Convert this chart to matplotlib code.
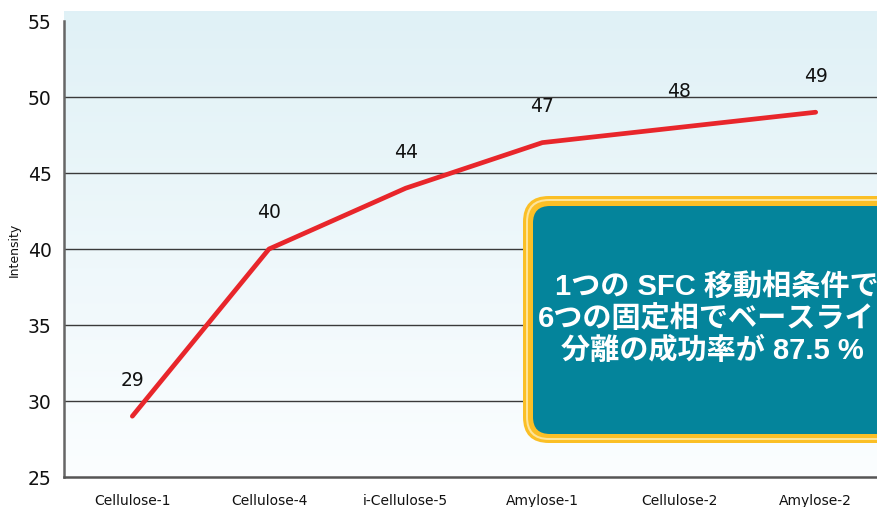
import numpy as np
import matplotlib.pyplot as plt
from matplotlib.patches import FancyBboxPatch

plt.rcParams['font.family'] = ['DejaVu Sans']

# columns tested and the measured intensity for each
columns = ['Cellulose-1', 'Cellulose-4', 'i-Cellulose-5', 'Amylose-1', 'Cellulose-2', 'Amylose-2']
intensity = [29, 40, 44, 47, 48, 49]
y_ticks = [25, 30, 35, 40, 45, 50, 55]
grid_levels = [30, 35, 40, 45, 50]

callout_lines = ['1つの SFC 移動相条件で', '6つの固定相でベースライン', '分離の成功率が 87.5 %']

fig = plt.figure(figsize=(8.78, 5.07), dpi=100)
ax = fig.add_axes([64 / 878, 30 / 507, 820 / 878, 466 / 507])

x = np.arange(len(columns))
ax.set_xlim(-0.5, len(columns) - 0.5)
ax.set_ylim(25, 55.66)

# pale blue gradient behind the plot
grad = np.linspace(0, 1, 256).reshape(-1, 1)
top_c = np.array([0.878, 0.945, 0.965])
bot_c = np.array([0.985, 0.995, 1.0])
img = top_c + (bot_c - top_c) * grad
ax.imshow(img[:, None, :].repeat(2, axis=1), extent=(-0.5, len(columns) - 0.5, 25, 55.66),
          aspect='auto', origin='upper', zorder=0)

ax.hlines(grid_levels, -0.5, len(columns) - 0.5, colors='#3a3a3a', linewidth=1.0, zorder=1)

ax.plot(x, intensity, color='#e8262b', linewidth=3.4, solid_capstyle='round', zorder=3)
for xi, v in zip(x, intensity):
    ax.annotate(str(v), (xi, v), xytext=(0, 26), textcoords='offset points',
                ha='center', va='center', fontsize=13.5, color='#111111', zorder=4)

for s in ['top', 'right']:
    ax.spines[s].set_visible(False)
ax.spines['left'].set_bounds(25, 55)
ax.spines['left'].set_color('#666666')
ax.spines['left'].set_linewidth(1.8)
ax.spines['bottom'].set_color('#555555')
ax.spines['bottom'].set_linewidth(1.8)

ax.set_yticks(y_ticks)
ax.set_yticklabels([str(t) for t in y_ticks], fontsize=13.5, color='#111111')
ax.set_xticks(x)
ax.set_xticklabels(columns, fontsize=10, color='#111111')
ax.tick_params(axis='y', length=0, pad=9)
ax.tick_params(axis='x', length=0, pad=12)
fig.text(14 / 878, 1 - 250 / 507, 'Intensity', rotation=90, fontsize=9,
         ha='center', va='center', color='#111111')

# callout box drawn on a pixel-space overlay
ov = fig.add_axes([0, 0, 1, 1], zorder=5)
ov.set_xlim(0, 878)
ov.set_ylim(507, 0)
ov.axis('off')
ov.patch.set_alpha(0)

for (x0, y0, x1, y1, r, col) in [
    (523, 196, 960, 443, 26, '#fbbf26'),
    (526, 199, 957, 440, 23, '#fde49a'),
    (528, 201, 955, 438, 21, '#fbbf26'),
    (533, 206, 950, 434, 17, '#04849b'),
]:
    ov.add_patch(FancyBboxPatch((x0, y0), x1 - x0, y1 - y0,
                                boxstyle=f'round,pad=0,rounding_size={r}',
                                facecolor=col, edgecolor='none'))

for line, lx, ly in zip(callout_lines, [555, 538, 561], [287, 319, 351]):
    ov.text(lx, ly, line, ha='left', va='center',
            fontsize=21, fontweight='bold', color='white',
            family=['Liberation Sans', 'Noto Sans CJK JP'])

fig.savefig('out.png', dpi=100)
